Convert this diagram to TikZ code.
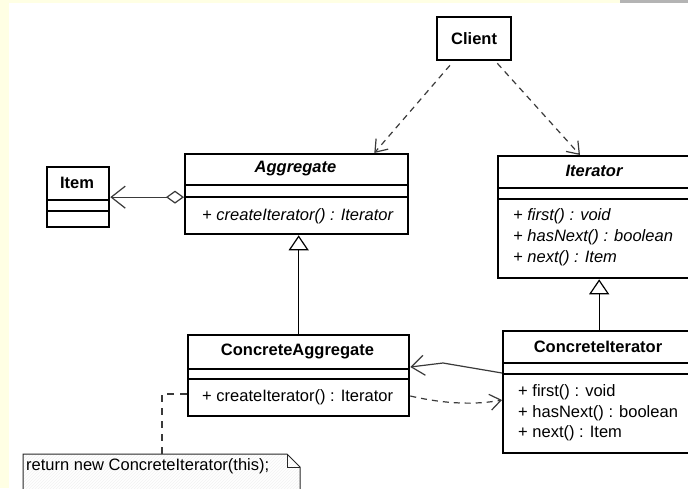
\documentclass[tikz,border=0pt]{standalone}
\usepackage{fontspec}
\setmainfont{Liberation Sans}
\usetikzlibrary{arrows.meta,calc,patterns}
\definecolor{pagetint}{HTML}{FFFFE4}
\definecolor{bargray}{HTML}{B4B4B4}
\definecolor{linkgray}{HTML}{3A3A3A}

\begin{document}
\begin{tikzpicture}[x=1pt,y=-1pt,
  every node/.style={font=\fontsize{16.5}{20}\selectfont, inner sep=0pt},
  classbox/.style={draw=black, line width=2.3pt, fill=white, anchor=north west, rectangle},
  divider/.style={line width=1.2pt},
  classname/.style={font=\fontsize{16.5}{20}\selectfont\bfseries},
  absname/.style={font=\fontsize{16.5}{20}\selectfont\bfseries\itshape},
  member/.style={anchor=west},
  absmember/.style={anchor=west, font=\fontsize{16.5}{20}\selectfont\itshape},
  dep/.style={draw=linkgray, line width=1.2pt, dash pattern=on 6pt off 5pt,
    -{Straight Barb[length=11pt,width=16pt]}},
  assoc/.style={draw=linkgray, line width=1.2pt, -{Straight Barb[length=13pt,width=20pt]}},
  aggr/.style={draw=linkgray, line width=1.2pt,
    {Diamond[open,length=18pt,width=13pt]}-{Straight Barb[length=14pt,width=22pt]}},
  gen/.style={draw=black, line width=1.2pt, -{Triangle[open,length=15pt,width=20pt]}},
  notelink/.style={draw=linkgray, line width=1.1pt, dash pattern=on 7pt off 6pt},
  notebox/.style={draw=black!85, line width=1pt}
]
\useasboundingbox (0,0) rectangle (688,488);

% page background with its margin strips
\fill[white] (0,0) rectangle (688,488);
\fill[pagetint] (0,0) rectangle (9,488);
\fill[pagetint] (0,0) rectangle (620,3);
\fill[bargray] (620,0) rectangle (688,3);

% class boxes
\node[classbox, minimum width=74pt, minimum height=43pt, classname] (client) at (436,16) {Client};
\node[classbox, minimum width=62pt, minimum height=60pt] (item) at (46,166) {};
\node[classbox, minimum width=223pt, minimum height=80pt] (agg) at (184,153) {};
\node[classbox, minimum width=194pt, minimum height=122pt] (iter) at (497,155) {};
\node[classbox, minimum width=221pt, minimum height=81pt] (cagg) at (187,334) {};
\node[classbox, minimum width=192pt, minimum height=122pt] (citer) at (502,330) {};

% compartment dividers
\draw[divider] (46,200) -- (108,200) (46,211) -- (108,211);
\draw[divider] (184,185) -- (407,185) (184,197) -- (407,197);
\draw[divider] (497,188) -- (691,188) (497,199) -- (691,199);
\draw[divider] (187,369) -- (408,369) (187,379) -- (408,379);
\draw[divider] (502,363) -- (694,363) (502,374) -- (694,374);

% class names and members
\node[classname] (itemname) at (77,183) {Item};
\node[absname] (aggname) at (295.5,169) {Aggregate};
\node[absmember] (aggop) at (202,216) {+ createIterator() : Iterator};
\node[absname] (itername) at (594,171) {Iterator};
\node[absmember] (iterfirst) at (513,216) {+ first() : void};
\node[absmember] (iterhas) at (513,237) {+ hasNext() : boolean};
\node[absmember] (iternext) at (513,258) {+ next() : Item};
\node[classname] (caggname) at (297.5,351) {ConcreteAggregate};
\node[member] (caggop) at (202,397) {+ createIterator() : Iterator};
\node[classname] (citername) at (598,347) {ConcreteIterator};
\node[member] (citerfirst) at (518,392) {+ first() : void};
\node[member] (citerhas) at (518,413) {+ hasNext() : boolean};
\node[member] (citernext) at (518,433) {+ next() : Item};

% note with folded corner and faint hatching
\filldraw[notebox, fill=white] (23,454) -- (287,454) -- (300,467) -- (300,495) -- (23,495) -- cycle;
\fill[pattern=north east lines, pattern color=black!5] (24,455) -- (286,455) -- (299,468) -- (299,495) -- (24,495) -- cycle;
\draw[notebox] (287,454) -- (287,467) -- (300,467);
\node[member] (notetext) at (26,466) {return new ConcreteIterator(this);};
\coordinate (notetop) at (162,454);

% connectors
\draw[dep] ([xshift=14pt,yshift=-4pt]client.south west) -- ([xshift=-35pt]agg.north east);
\draw[dep] ([xshift=-15pt,yshift=-2pt]client.south east) -- ([xshift=83pt]iter.north west);
\draw[aggr] (item.east -| agg.west) -- (item.east);
\draw[gen] (cagg.north) -- (cagg.north |- agg.south);
\draw[gen] (citer.north) -- (citer.north |- iter.south);
\coordinate (bend) at (443,363);
\draw[assoc] ([yshift=-43pt]citer.north west) -- (bend) -- ([yshift=-33pt]cagg.north east);
\draw[dep] ([yshift=-62pt]cagg.north east) .. controls (445,404) and (475,405) .. ([yshift=-70pt]citer.north west);
\draw[notelink] ([yshift=-60pt]cagg.north west) -| (notetop);
\end{tikzpicture}
\end{document}
